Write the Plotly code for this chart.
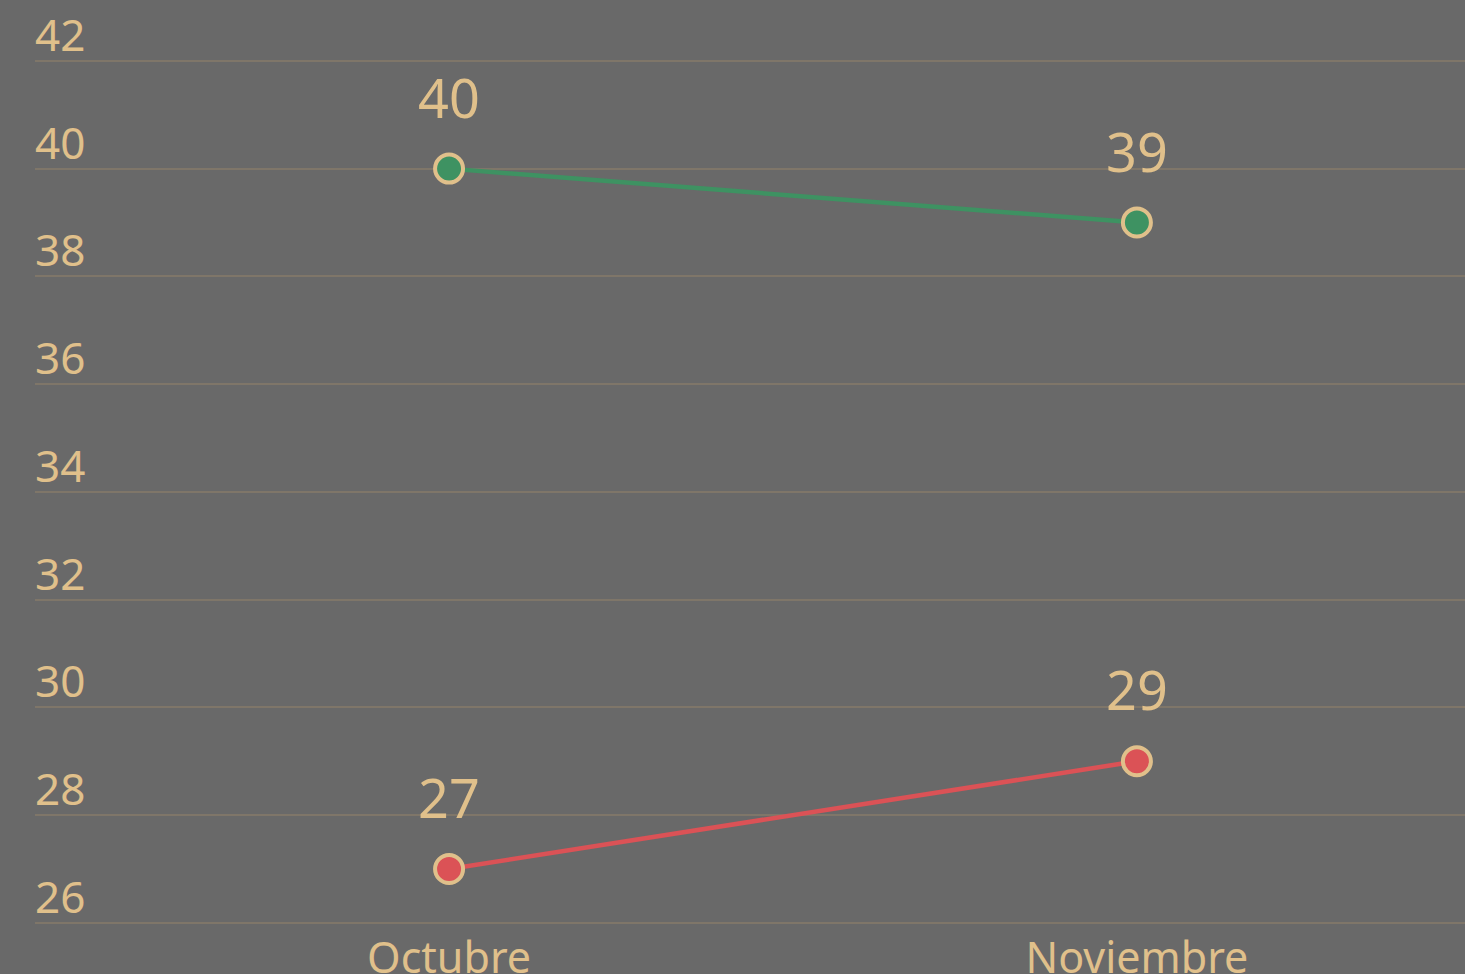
import plotly.graph_objects as go

months = ["Octubre", "Noviembre"]
serie_verde = [40, 39]
serie_roja = [27, 29]
y_ticks = [26, 28, 30, 32, 34, 36, 38, 40, 42]

BG = "#696969"
GRID = "#7f7669"
TXT = "#e0c08b"
GREEN = "#3e9262"
RED = "#db5256"
FONT = "Noto Sans"

fig = go.Figure()
for vals, col in [(serie_verde, GREEN), (serie_roja, RED)]:
    fig.add_trace(go.Scatter(
        x=[0, 1], y=vals, mode="lines+markers",
        line=dict(color=col, width=4.5),
        marker=dict(size=28, color=col, line=dict(color=TXT, width=4)),
        hoverinfo="skip", showlegend=False,
    ))
    for i, v in enumerate(vals):
        fig.add_annotation(x=i, y=v, text=str(v), showarrow=False,
                           yanchor="bottom", yshift=33,
                           font=dict(family=FONT, size=54, color=TXT))

for t in y_ticks:
    fig.add_annotation(x=0, xref="paper", y=t, yref="y", text=str(t),
                       showarrow=False, xanchor="left", yanchor="bottom",
                       xshift=-2, yshift=-5,
                       font=dict(family=FONT, size=44, color=TXT))

fig.update_layout(
    width=1465, height=974,
    margin=dict(l=35, r=0, t=0, b=49),
    paper_bgcolor=BG, plot_bgcolor=BG,
    font=dict(family=FONT, color=TXT),
    xaxis=dict(range=[-0.602, 1.477], tickvals=[0, 1], ticktext=months,
               showgrid=False, zeroline=False, showline=False, ticks="",
               ticklabelstandoff=4, automargin=False,
               tickfont=dict(family=FONT, size=43, color=TXT)),
    yaxis=dict(range=[25.96, 43.13], tickvals=y_ticks, showticklabels=False,
               showgrid=True, gridcolor=GRID, gridwidth=2, automargin=False,
               zeroline=False, showline=False, ticks=""),
)
fig.write_html("out.html", config={"displayModeBar": False},
               post_script="document.body.style.margin='0';")
